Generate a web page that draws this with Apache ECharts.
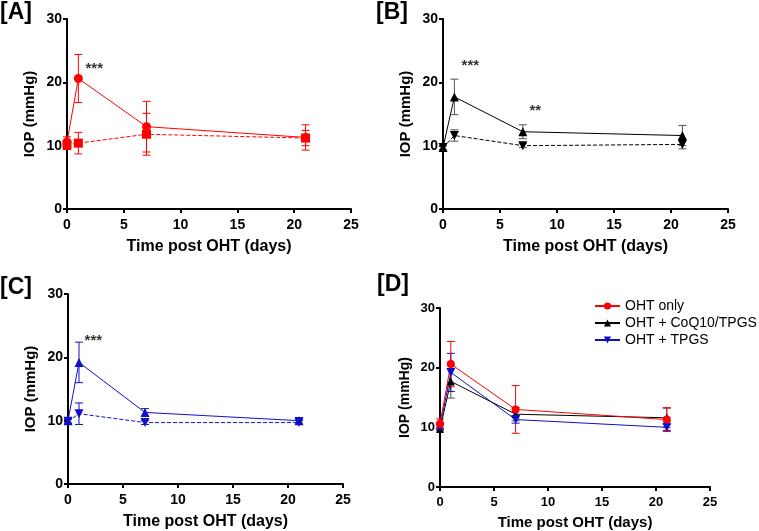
<!DOCTYPE html>
<html><head><meta charset="utf-8">
<script src="https://cdn.jsdelivr.net/npm/echarts@6/dist/echarts.min.js"></script>
<style>html,body{margin:0;padding:0;background:#fff}#c{width:759px;height:531px}</style>
</head><body><div id="c"></div>
<script>
const days = [0, 1, 7, 21];
const xTicks = [0, 5, 10, 15, 20, 25];
const yTicks = [0, 10, 20, 30];
// Panel A: OHT only (solid circles) vs control eye (dashed squares)
const ohtOnly = [10.6, 20.6, 13.0, 11.3];
const ohtOnlyErr = [0.8, 3.8, 4.0, 2.0];
const ctrlA = [10.1, 10.4, 11.8, 11.2];
const ctrlAErr = [0.7, 1.7, 3.3, 1.2];
// Panel B: OHT + CoQ10/TPGS (solid up-triangles) vs control (dashed down-triangles)
const coq = [9.7, 17.7, 12.2, 11.6];
const coqErr = [0.3, 2.8, 1.1, 1.6];
const ctrlB = [9.7, 11.6, 10.0, 10.2];
const ctrlBErr = [0.3, 0.9, 0.3, 0.7];
// Panel C: OHT + TPGS (solid up-triangles) vs control (dashed down-triangles)
const tpgs = [10.0, 19.2, 11.3, 10.0];
const tpgsErr = [0.4, 3.2, 0.6, 0.5];
const ctrlC = [9.9, 11.1, 9.7, 9.7];
const ctrlCErr = [0.3, 1.7, 0.3, 0.3];
// Significance annotations [x, y, text]
const starsA = [[2.4, 22.2, '***']];
const starsB = [[2.4, 22.6, '***'], [8.1, 15.5, '**']];
const starsC = [[2.3, 22.6, '***']];
const panelLabels = ['[A]', '[B]', '[C]', '[D]'];
const legendNames = ['OHT only', 'OHT + CoQ10/TPGS', 'OHT + TPGS'];

const RED = '#ff0000', BLACK = '#000000', BLUE = '#1010c8';
const FONT = '"Liberation Sans", Arial, sans-serif';

const grids = [
  {left: 67, top: 19, width: 284, height: 190},
  {left: 443, top: 19, width: 285, height: 190},
  {left: 68, top: 294, width: 275, height: 190},
  {left: 440, top: 308, width: 270, height: 179}
];
const big = [true, true, true, false];

function xAxis(i) {
  return {
    gridIndex: i, type: 'value', min: 0, max: 25, interval: 5,
    name: 'Time post OHT (days)', nameLocation: 'middle', nameGap: big[i] ? 30 : 28,
    nameTextStyle: {fontFamily: FONT, fontWeight: 'bold', fontSize: big[i] ? 16 : 15, color: '#000'},
    axisLine: {show: true, onZero: false, lineStyle: {color: '#000', width: 2}},
    axisTick: {show: true, length: 4, lineStyle: {color: '#000', width: 2}},
    axisLabel: {fontFamily: FONT, fontWeight: 'bold', fontSize: big[i] ? 14 : 13, color: '#000', margin: 9},
    splitLine: {show: false}
  };
}
function yAxis(i) {
  return {
    gridIndex: i, type: 'value', min: 0, max: 30, interval: 10,
    name: 'IOP (mmHg)', nameLocation: 'middle', nameGap: big[i] ? 30 : 28,
    nameTextStyle: {fontFamily: FONT, fontWeight: 'bold', fontSize: big[i] ? 15 : 14, color: '#000'},
    axisLine: {show: true, onZero: false, lineStyle: {color: '#000', width: 2}},
    axisTick: {show: true, length: 4, lineStyle: {color: '#000', width: 2}},
    axisLabel: {fontFamily: FONT, fontWeight: 'bold', fontSize: big[i] ? 14 : 13, color: '#000', margin: 5},
    splitLine: {show: false}
  };
}

function lineSeries(name, i, vals, color, symbol, dashed, size) {
  return {
    name: name, type: 'line', xAxisIndex: i, yAxisIndex: i,
    data: days.map((d, k) => [d, vals[k]]),
    symbol: symbol, symbolSize: size,
    itemStyle: {color: color},
    lineStyle: {color: color, width: 1, type: dashed ? [4, 2] : 'solid'},
    z: 3, animation: false
  };
}
function errSeries(i, vals, errs, color) {
  return {
    type: 'custom', xAxisIndex: i, yAxisIndex: i, z: 2, animation: false,
    data: days.map((d, k) => [d, vals[k] - errs[k], vals[k] + errs[k]]),
    renderItem: function (params, api) {
      const x = api.value(0);
      const lo = api.coord([x, api.value(1)]);
      const hi = api.coord([x, api.value(2)]);
      const w = 4;
      const st = {stroke: color, lineWidth: 1};
      return {type: 'group', children: [
        {type: 'line', shape: {x1: lo[0], y1: lo[1], x2: hi[0], y2: hi[1]}, style: st},
        {type: 'line', shape: {x1: hi[0] - w, y1: hi[1], x2: hi[0] + w, y2: hi[1]}, style: st},
        {type: 'line', shape: {x1: lo[0] - w, y1: lo[1], x2: lo[0] + w, y2: lo[1]}, style: st}
      ]};
    }
  };
}
function starSeries(i, arr) {
  return {
    type: 'scatter', xAxisIndex: i, yAxisIndex: i, symbolSize: 1, z: 5, animation: false,
    itemStyle: {color: 'rgba(0,0,0,0)'},
    data: arr.map(s => ({value: [s[0], s[1]], label: {formatter: s[2]}})),
    label: {show: true, position: 'inside', fontFamily: FONT, fontWeight: 'bold', fontSize: 15, color: '#000'},
    silent: true
  };
}
const UP = 'triangle';
const DOWN = 'path://M0,0 L10,0 L5,9 Z';

const series = [
  errSeries(0, ohtOnly, ohtOnlyErr, RED),
  errSeries(0, ctrlA, ctrlAErr, RED),
  lineSeries('A-OHT', 0, ohtOnly, RED, 'circle', false, 9),
  lineSeries('A-ctrl', 0, ctrlA, RED, 'rect', true, 9),
  starSeries(0, starsA),

  errSeries(1, coq, coqErr, '#555'),
  errSeries(1, ctrlB, ctrlBErr, '#555'),
  lineSeries('B-CoQ', 1, coq, BLACK, UP, false, 9),
  lineSeries('B-ctrl', 1, ctrlB, BLACK, DOWN, true, 9),
  starSeries(1, starsB),

  errSeries(2, tpgs, tpgsErr, BLUE),
  errSeries(2, ctrlC, ctrlCErr, BLUE),
  lineSeries('C-TPGS', 2, tpgs, BLUE, UP, false, 9),
  lineSeries('C-ctrl', 2, ctrlC, BLUE, DOWN, true, 9),
  starSeries(2, starsC),

  errSeries(3, coq, coqErr, '#555'),
  errSeries(3, tpgs, tpgsErr, BLUE),
  errSeries(3, ohtOnly, ohtOnlyErr, RED),
  lineSeries(legendNames[1], 3, coq, BLACK, UP, false, 8),
  lineSeries(legendNames[2], 3, tpgs, BLUE, DOWN, false, 9),
  lineSeries(legendNames[0], 3, ohtOnly, RED, 'circle', false, 8)
];

const labelPos = [[0, 1], [376, 1], [0, 276], [377, 273]];
const graphic = panelLabels.map((t, k) => ({
  type: 'text', left: labelPos[k][0], top: labelPos[k][1],
  style: {text: t, fontFamily: FONT, fontWeight: 'bold', fontSize: 23, fill: '#000'}
}));

const chart = echarts.init(document.getElementById('c'), null, {renderer: 'canvas'});
chart.setOption({
  backgroundColor: '#fff',
  animation: false,
  grid: grids,
  xAxis: [0, 1, 2, 3].map(xAxis),
  yAxis: [0, 1, 2, 3].map(yAxis),
  legend: {
    data: legendNames, orient: 'vertical', left: 589, top: 294,
    itemWidth: 25, itemHeight: 9, itemGap: 3,
    textStyle: {fontFamily: FONT, fontSize: 14, color: '#000'},
    selectedMode: false
  },
  graphic: graphic,
  series: series
});
</script></body></html>
